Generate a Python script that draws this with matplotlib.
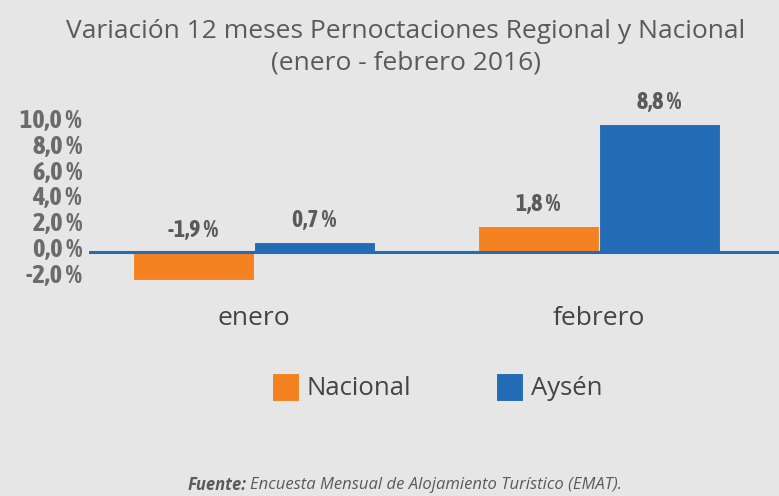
import numpy as np
import matplotlib.pyplot as plt
from matplotlib import font_manager

months = ["enero", "febrero"]
nacional = [-1.9, 1.8]
aysen = [0.7, 8.8]
tick_values = [-2, 0, 2, 4, 6, 8, 10]

orange = "#f58220"
blue = "#236bb4"
grey = "#5a5a5a"
bg = "#e5e6e5"


def is_narrow(f):
    n = f.name.lower()
    return "narrow" in n or "condensed" in n


def is_bold(f):
    if isinstance(f.weight, int):
        return f.weight >= 600
    return f.weight in ("bold", "semibold", "demibold")


# look for a narrow face that has a bold weight, like the original's font
narrow_names = sorted({f.name for f in font_manager.fontManager.ttflist
                       if is_narrow(f) and is_bold(f)})
narrow = narrow_names[:1] + ["DejaVu Sans"]
shrink = 1.0 if narrow_names else 0.75


def pct(v):
    return f"{v:.1f}".replace(".", ",") + " %"


fig = plt.figure(figsize=(7.79, 4.96), dpi=100, facecolor=bg)
W, H = 779, 496
rect = [89 / W, 1 - 300 / H, 690 / W, 200 / H]

# labels of the y axis sit on their own scale, as in the original graphic
ax_t = fig.add_axes(rect)
ax_t.set_facecolor("none")
ax_t.set_ylim(-53 / 12.9, 147 / 12.9)
ax_t.set_yticks(tick_values)
ax_t.set_yticklabels([pct(v) for v in tick_values], family=narrow,
                     weight="bold", fontsize=19 * shrink, color="#6b6b6b")
ax_t.tick_params(axis="y", length=0, pad=5)
ax_t.set_xticks([])
for s in ax_t.spines.values():
    s.set_visible(False)

ax = fig.add_axes(rect)
ax.set_facecolor("none")
x = np.arange(len(months))
w = 0.35
ax.set_xlim(-165 / 345, 1 + 180 / 345)
ax.set_ylim(-48 / 14.6, 152 / 14.6)
b1 = ax.bar(x - w / 2, nacional, w, color=orange, edgecolor=bg, linewidth=0.8)
b2 = ax.bar(x + w / 2, aysen, w, color=blue, edgecolor=bg, linewidth=0.8)
ax.axhline(0, color=blue, linewidth=2.2, zorder=3)

for bars, vals in ((b1, nacional), (b2, aysen)):
    for r, v in zip(bars, vals):
        ax.annotate(pct(v), (r.get_x() + r.get_width() / 2, max(v, 0)),
                    xytext=(0, 7), textcoords="offset points",
                    ha="center", va="bottom", family=narrow,
                    weight="bold", fontsize=17 * shrink, color=grey)

ax.set_yticks([])
ax.set_xticks(x)
ax.set_xticklabels(months, fontsize=19, color="#444444", family="Open Sans")
ax.tick_params(axis="x", length=0, pad=4)
for s in ax.spines.values():
    s.set_visible(False)

fig.text(406 / W, 1 - 31 / H, "Variación 12 meses Pernoctaciones Regional y Nacional",
         ha="center", va="center", fontsize=19, color=grey, family="Open Sans")
fig.text(406 / W, 1 - 63 / H, "(enero - febrero 2016)",
         ha="center", va="center", fontsize=19, color=grey, family="Open Sans")

leg = fig.legend([b1, b2], ["Nacional", "Aysén"], loc="center",
                 bbox_to_anchor=(437 / W, 1 - 387 / H), ncol=2, frameon=False,
                 prop={"family": "Open Sans", "size": 18.5},
                 handlelength=1.05, handleheight=1.3, handletextpad=0.3,
                 columnspacing=3.3, labelcolor="#444444")

fig.text(247 / W, 1 - 485 / H, "Fuente:", ha="right", va="center", fontsize=12,
         style="italic", weight="bold", color=grey, family="Open Sans")
fig.text(250 / W, 1 - 485 / H, "Encuesta Mensual de Alojamiento Turístico (EMAT).",
         ha="left", va="center", fontsize=12, style="italic", color=grey,
         family="Open Sans")

fig.savefig("out.png", dpi=100, facecolor=bg)
